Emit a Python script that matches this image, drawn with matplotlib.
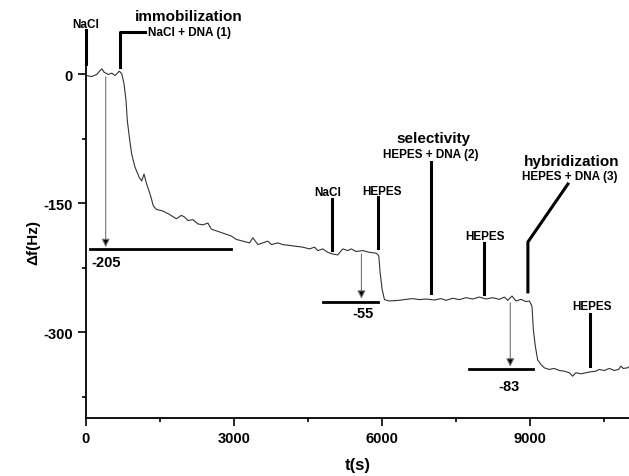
import matplotlib.pyplot as plt

plt.rcParams['font.family'] = ['Liberation Sans', 'DejaVu Sans']
plt.rcParams['font.weight'] = 'bold'
plt.rcParams['axes.unicode_minus'] = False

# QCM frequency shift trace
time_s = [0, 14, 115, 216, 318, 365, 452, 521, 588, 675, 724, 770, 811, 837, 878,
          926, 993, 1080, 1129, 1175, 1230, 1297, 1364, 1425, 1558, 1694, 1830, 1931,
          1998, 2064, 2166, 2267, 2368, 2469, 2538, 2639, 2740, 2842, 2943, 3044, 3178,
          3313, 3380, 3481, 3582, 3684, 3753, 3886, 3987, 4123, 4258, 4392, 4528, 4629,
          4696, 4797, 4898, 4999, 5100, 5202, 5303, 5372, 5473, 5606, 5742, 5878, 5931,
          5959, 5999, 6046, 6147, 6350, 6485, 6619, 6754, 6890, 7058, 7193, 7294, 7428,
          7564, 7699, 7833, 7969, 8104, 8238, 8375, 8476, 8543, 8630, 8711, 8812, 8913,
          8980, 9035, 9062, 9102, 9149, 9217, 9284, 9385, 9487, 9588, 9689, 9790, 9857,
          9925, 10027, 10128, 10229, 10330, 10397, 10499, 10600, 10701, 10788, 10836,
          10883, 10970, 11000]
delta_f = [-2, -1.4, -2.6, -0.2, 6.4, 2.6, -0.2, 1.4, -1.4, 3.7, 0.6, -11, -30.5, -54, -73,
           -93, -108, -120, -124, -116, -128, -139, -153, -157, -159, -163, -168, -164,
           -166, -170, -169, -174, -175, -173, -180, -182, -184, -186, -188, -192, -194,
           -196, -190, -198, -196, -194, -198, -196, -198, -199, -200, -201, -203, -201,
           -205, -203, -207, -209, -210, -203, -205, -203, -206, -205, -207, -208, -211,
           -231, -250, -262, -263.6, -262.8, -261.7, -260.8, -262, -261.3, -262.4, -260.8,
           -262.8, -260.4, -262, -259.7, -261.3, -259, -261.3, -259.7, -261.7, -259, -262.8,
           -257.8, -263.6, -261.7, -264.3, -263.6, -269.5, -297, -316, -332, -337.4,
           -341.3, -343.2, -342, -344.4, -345.2, -347, -351, -347, -348.3, -347, -345.9,
           -345.2, -343.2, -344.4, -342, -344.4, -343.2, -339.4, -342, -341.3, -340]

# injection markers: (time, bottom, top, label, label time, label y)
markers = [
    (0, 12, 51, 'NaCl', 0, 58),
    (4993, -204.5, -145, 'NaCl', 4890, -137),
    (5925, -201.5, -143, 'HEPES', 6000, -135.5),
    (8070, -255.8, -196.4, 'HEPES', 8082, -188),
    (10215, -339.5, -279, 'HEPES', 10256, -269.5),
]
# step sizes: (arrow time, arrow start, arrow end, line start, line end, line y, text, text time, text y)
steps = [
    (399, -3, -201, 89, 2943, -202.6, '-205', 117, -218.5),
    (5580, -209, -261, 4803, 5925, -264.8, '-55', 5620, -278),
    (8595, -265.5, -340, 7767, 9049, -343.2, '-83', 8564, -362.7),
]

fig = plt.figure(figsize=(6.29, 4.77), dpi=100)
ax = fig.add_axes([86 / 629, 1 - 419.3 / 477, (629 - 86) / 629, (419.3 - 65) / 477])
ax.plot(time_s, delta_f, color='#333333', lw=0.8)

ax.set_xlim(0, 11000)
ax.set_ylim(-400, 12)
ax.set_xticks([0, 3000, 6000, 9000])
ax.set_xticks([1500, 4500, 7500, 10500], minor=True)
ax.set_yticks([0, -150, -300])
ax.set_yticks([-75, -225, -375], minor=True)
ax.spines['top'].set_visible(False)
ax.spines['right'].set_visible(False)
ax.spines['left'].set_linewidth(1.3)
ax.spines['bottom'].set_linewidth(1.3)
ax.tick_params(which='major', length=5.5, width=1.2, labelsize=10.5, pad=4)
ax.tick_params(which='minor', length=3.2, width=1.2)
ax.set_xlabel('t(s)', fontsize=12, fontweight='bold', labelpad=8)
ax.set_ylabel('\u0394f(Hz)', fontsize=11, fontweight='bold', labelpad=2)

for t, lo, hi, lab, lt, ly in markers:
    ax.plot([t, t], [lo, hi], color='k', lw=2.2, clip_on=False)
    ax.text(lt, ly, lab, fontsize=8.5, fontweight='bold', ha='center', va='center')

# immobilization
ax.plot([696, 696, 1190], [9, 49.5, 49.5], color='k', lw=2.2, clip_on=False)
ax.text(1255, 49.5, 'NaCl + DNA (1)', fontsize=8.5, fontweight='bold', va='center')
ax.text(986, 67.6, 'immobilization', fontsize=11, fontweight='bold', va='center')

# selectivity
ax.plot([6990, 6990], [-253.9, -101.6], color='k', lw=2.2)
ax.text(6990, -92.7, 'HEPES + DNA (2)', fontsize=8.5, fontweight='bold', ha='center', va='center')
ax.text(7035, -74, 'selectivity', fontsize=11, fontweight='bold', ha='center', va='center')

# hybridization
ax.plot([8952, 8952, 9762], [-253, -195, -127.6], color='k', lw=2.2)
ax.text(9803, -118, 'HEPES + DNA (3)', fontsize=8.5, fontweight='bold', ha='center', va='center')
ax.text(9830, -100.4, 'hybridization', fontsize=11, fontweight='bold', ha='center', va='center')

for at, a0, a1, l0, l1, ly, txt, tt, ty in steps:
    ax.annotate('', xy=(at, a1), xytext=(at, a0),
                arrowprops=dict(arrowstyle='-|>', fc='k', ec='0.45', lw=0.8,
                                mutation_scale=12, shrinkA=0, shrinkB=0))
    ax.plot([l0, l1], [ly, ly], color='k', lw=2)
    ax.text(tt, ty, txt, fontsize=10.5, fontweight='bold', ha='center' if txt != '-205' else 'left',
            va='center')

plt.savefig('out.png', dpi=100)
